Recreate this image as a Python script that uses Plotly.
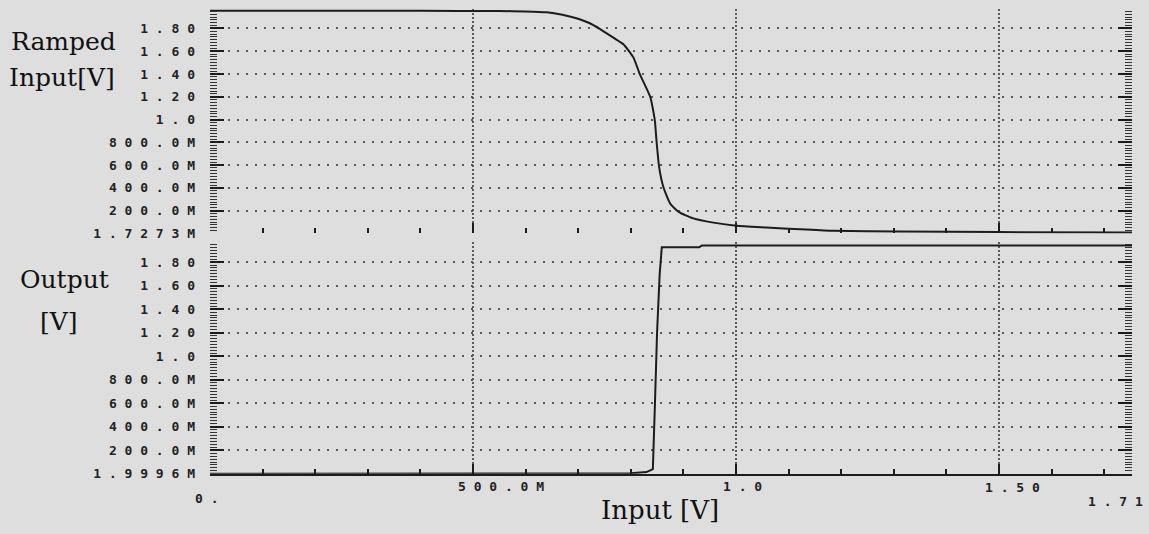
import plotly.graph_objects as go

# Sweep of the input voltage [V]
ramp_in = [0.00, 0.40, 0.55, 0.60, 0.64, 0.67, 0.70, 0.72, 0.741, 0.767, 0.786,
           0.805, 0.817, 0.837, 0.843, 0.846, 0.849, 0.854, 0.862, 0.875, 0.891,
           0.919, 0.957, 1.001, 1.058, 1.122, 1.185, 1.312, 1.50, 1.753]
# Ramped input (first stage output) [V]
ramp_out = [1.955, 1.955, 1.953, 1.950, 1.942, 1.920, 1.885, 1.850, 1.797, 1.719,
            1.661, 1.546, 1.401, 1.200, 1.070, 0.983, 0.810, 0.580, 0.408, 0.262,
            0.190, 0.132, 0.095, 0.067, 0.052, 0.037, 0.023, 0.017, 0.012, 0.009]

# Final output [V]
out_in = [0.00, 0.60, 0.80, 0.830, 0.842, 0.846, 0.850, 0.855, 0.859, 0.93, 0.935, 1.753]
out_v = [0.000, 0.000, 0.004, 0.015, 0.040, 0.600, 1.200, 1.700, 1.925, 1.925, 1.940, 1.940]

# Axis ticks and labels
y_tick_vals = [0.0, 0.2, 0.4, 0.6, 0.8, 1.0, 1.2, 1.4, 1.6, 1.8]
top_y_labels = ["1.7273M", "200.0M", "400.0M", "600.0M", "800.0M", "1.0", "1.20", "1.40", "1.60", "1.80"]
bot_y_labels = ["1.9996M", "200.0M", "400.0M", "600.0M", "800.0M", "1.0", "1.20", "1.40", "1.60", "1.80"]
x_grid_vals = [0.5, 1.0, 1.5]
x_label_vals = [0.0, 0.5, 1.0, 1.5, 1.71]
x_label_text = ["0.", "500.0M", "1.0", "1.50", "1.71"]
x_label_drop = [25, 13, 13, 14, 28]     # how far each label sits below the axis, px
x_label_lead = [-17, -17, -15, -16, -23]  # label start relative to its tick, px

W, H = 1149, 534
BG = "#dddedd"
INK = "#1c1c1c"
GRID = "#5a5a5a"
MONO = dict(family="DejaVu Sans Mono", size=13, color="#222", weight="bold")
SERIF = "DejaVu Serif"


def spread(s):
    # plotter-style wide lettering
    return " ".join(s)


def px_x(p):
    return p / W


def px_y(p):
    return 1 - p / H


x_dom = [px_x(210), px_x(1132)]
top_dom = [px_y(237), px_y(9)]
bot_dom = [px_y(481), px_y(246)]

fig = go.Figure()
fig.add_trace(go.Scatter(x=ramp_in, y=ramp_out, mode="lines", xaxis="x", yaxis="y",
                         line=dict(color=INK, width=2, shape="spline", smoothing=0.5),
                         showlegend=False, hoverinfo="skip"))
fig.add_trace(go.Scatter(x=out_in, y=out_v, mode="lines", xaxis="x2", yaxis="y2",
                         line=dict(color=INK, width=2), showlegend=False, hoverinfo="skip"))


def y_axis(dom, rng, labels):
    return dict(
        domain=dom, range=rng, tickvals=y_tick_vals,
        ticktext=[spread(t) for t in labels], tickfont=MONO,
        ticks="inside", ticklen=14, tickwidth=1.5, tickcolor=INK,
        minor=dict(tick0=0, dtick=0.025, ticks="inside", ticklen=7, tickwidth=1,
                   tickcolor="#333", showgrid=False),
        showgrid=True, gridcolor=GRID, gridwidth=2, griddash="2px,7px",
        zeroline=False, showline=False, mirror="ticks", ticklabelstandoff=14,
        fixedrange=True,
    )


def x_axis(anchor, line):
    return dict(
        domain=x_dom, range=[0, 1.753], anchor=anchor,
        tickvals=x_grid_vals, showticklabels=False,
        ticks="inside", ticklen=10, tickwidth=1.5, tickcolor=INK,
        minor=dict(tick0=0, dtick=0.1, ticks="inside", ticklen=5, tickwidth=1.5,
                   tickcolor=INK, showgrid=False),
        showgrid=True, gridcolor=GRID, gridwidth=1.5, griddash="2px,2px",
        zeroline=False, showline=line, linecolor=INK, linewidth=2,
        fixedrange=True,
    )


annotations = []
for v, t, d, s in zip(x_label_vals, x_label_text, x_label_drop, x_label_lead):
    annotations.append(dict(x=v, xref="x2", y=bot_dom[0], yref="paper",
                            text=spread(t), showarrow=False, font=MONO,
                            xanchor="left", yanchor="middle", xshift=s, yshift=-d))

side_labels = [("Ramped", 63, 42), ("Input[V]", 62, 79), ("Output", 64, 284), ("[V]", 59, 326)]
for t, cx, cy in side_labels:
    annotations.append(dict(x=px_x(cx), y=px_y(cy), xref="paper", yref="paper", text=t,
                            showarrow=False, xanchor="center", yanchor="middle",
                            font=dict(family=SERIF, size=25, color="#111")))
annotations.append(dict(x=px_x(660), y=px_y(518), xref="paper", yref="paper", text="Input [V]",
                        showarrow=False, xanchor="center", yanchor="middle",
                        font=dict(family=SERIF, size=26, color="#111")))

fig.update_layout(
    width=W, height=H, margin=dict(l=0, r=0, t=0, b=0),
    paper_bgcolor=BG, plot_bgcolor=BG,
    xaxis=x_axis("y", False),
    xaxis2=dict(x_axis("y2", True), matches="x"),
    yaxis=y_axis(top_dom, [0, 1.972], top_y_labels),
    yaxis2=y_axis(bot_dom, [0, 1.968], bot_y_labels),
    annotations=annotations,
    showlegend=False,
)

fig.write_html("out.html")
